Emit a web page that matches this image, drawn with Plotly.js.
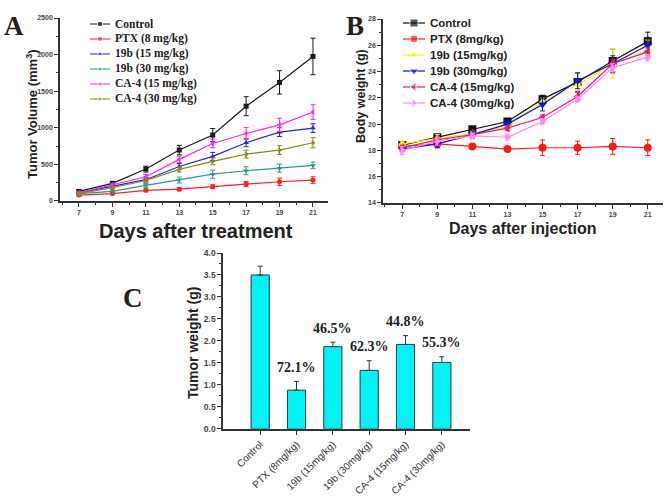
<!DOCTYPE html>
<html>
<head>
<meta charset="utf-8">
<script src="https://cdn.plot.ly/plotly-3.0.1.min.js"></script>
<style>
  html, body { margin: 0; padding: 0; background: #fff; }
  #fig { width: 666px; height: 501px; }
</style>
</head>
<body>
<div id="fig"></div>
<script>
// A: tumor volume (mm3) vs days after treatment
const daysA = [7, 9, 11, 13, 15, 17, 19, 21];
const volControl = [130, 240, 435, 695, 900, 1295, 1620, 1975];
const volControlErr = [20, 20, 40, 65, 90, 130, 160, 250];
const volPTX = [80, 100, 145, 160, 195, 230, 262, 285];
const volPTXErr = [15, 15, 20, 20, 25, 35, 50, 45];
const vol19b15 = [110, 200, 290, 470, 608, 795, 940, 995];
const vol19b15Err = [20, 20, 30, 40, 55, 55, 60, 60];
const vol19b30 = [100, 130, 212, 285, 365, 412, 448, 485];
const vol19b30Err = [15, 20, 25, 40, 55, 55, 55, 45];
const volCA15 = [110, 222, 330, 568, 785, 922, 1040, 1215];
const volCA15Err = [20, 20, 30, 45, 60, 80, 90, 100];
const volCA30 = [100, 180, 280, 430, 540, 640, 695, 795];
const volCA30Err = [20, 20, 25, 35, 45, 55, 60, 70];
const namesA = ["Control", "PTX (8 mg/kg)", "19b (15 mg/kg)", "19b (30 mg/kg)", "CA-4 (15 mg/kg)", "CA-4 (30 mg/kg)"];

// B: body weight (g) vs days after injection
const daysB = [7, 9, 11, 13, 15, 17, 19, 21];
const bwControl = [18.4, 19.0, 19.6, 20.2, 21.9, 23.2, 24.8, 26.3];
const bwControlErr = [0.2, 0.2, 0.1, 0.2, 0.3, 0.7, 0.9, 0.7];
const bwPTX = [18.3, 18.5, 18.3, 18.1, 18.2, 18.2, 18.3, 18.2];
const bwPTXErr = [0.3, 0.3, 0.1, 0.1, 0.6, 0.5, 0.6, 0.6];
const bw19b15 = [18.5, 18.9, 19.3, 19.8, 21.7, 23.0, 24.6, 25.6];
const bw19b15Err = [0.2, 0.3, 0.2, 0.2, 0.3, 0.9, 1.1, 0.8];
const bw19b30 = [18.1, 18.5, 19.2, 20.0, 21.5, 23.3, 24.6, 26.0];
const bw19b30Err = [0.2, 0.3, 0.3, 0.3, 0.5, 0.6, 0.6, 0.6];
const bwCA15 = [18.2, 18.8, 19.2, 19.7, 20.5, 22.1, 24.6, 25.5];
const bwCA15Err = [0.2, 0.2, 0.2, 0.2, 0.2, 0.3, 0.3, 0.3];
const bwCA30 = [18.0, 18.7, 19.1, 19.0, 20.2, 21.9, 24.3, 25.1];
const bwCA30Err = [0.3, 0.3, 0.2, 0.2, 0.2, 0.2, 0.3, 0.2];
const namesB = ["Control", "PTX (8mg/kg)", "19b (15mg/kg)", "19b (30mg/kg)", "CA-4 (15mg/kg)", "CA-4 (30mg/kg)"];

// C: tumor weight (g) per group
const groupsC = ["Control", "PTX (8mg/kg)", "19b (15mg/kg)", "19b (30mg/kg)", "CA-4 (15mg/kg)", "CA-4 (30mg/kg)"];
const weightC = [3.5, 0.88, 1.87, 1.33, 1.92, 1.51];
const weightErrC = [0.2, 0.2, 0.1, 0.22, 0.2, 0.13];
const inhibitionC = ["", "72.1%", "46.5%", "62.3%", "44.8%", "55.3%"];

const colorsA = ["#1a1a1a", "#ff2020", "#2020ff", "#1f9c8f", "#ff20ff", "#8c8a10"];
const colorsB = ["#111111", "#ff1a1a", "#f5f500", "#1010e0", "#e8186a", "#ff88ff"];
const symbols = ["square", "circle", "triangle-up", "triangle-down", "triangle-left", "triangle-right"];

const seriesA = [[volControl, volControlErr], [volPTX, volPTXErr], [vol19b15, vol19b15Err],
                 [vol19b30, vol19b30Err], [volCA15, volCA15Err], [volCA30, volCA30Err]];
const seriesB = [[bwControl, bwControlErr], [bwPTX, bwPTXErr], [bw19b15, bw19b15Err],
                 [bw19b30, bw19b30Err], [bwCA15, bwCA15Err], [bwCA30, bwCA30Err]];

const traces = [];
const annotations = [];

function addSeries(days, s, i, colors, xa, ya, msize) {
  traces.push({
    x: days, y: s[0], type: "scatter", mode: "lines+markers", showlegend: false,
    xaxis: xa, yaxis: ya,
    line: { color: colors[i], width: 1.2 },
    marker: { color: colors[i], symbol: symbols[i], size: msize },
    error_y: { type: "data", array: s[1], color: colors[i], thickness: 1, width: 2.5 }
  });
}
// hand-made legend on its own hidden axes (Plotly legend rows are too tall)
function addKey(names, i, colors, xa, ya, msize, font) {
  traces.push({
    x: [0, 1, 2], y: [i, i, i], type: "scatter", mode: "lines+markers", showlegend: false,
    xaxis: xa, yaxis: ya, hoverinfo: "skip",
    line: { color: colors[i], width: 1.2 },
    marker: { color: colors[i], symbol: symbols[i], size: [0, msize, 0] }
  });
  annotations.push({
    text: "<b>" + names[i] + "</b>", x: 2, y: i, xref: xa, yref: ya,
    xanchor: "left", yanchor: "middle", xshift: 3, showarrow: false, font: font
  });
}
seriesA.forEach(function(s, i) { addSeries(daysA, s, i, colorsA, "x", "y", 5); });
seriesB.forEach(function(s, i) { addSeries(daysB, s, i, colorsB, "x2", "y2", 8); });
namesA.forEach(function(n, i) {
  addKey(namesA, i, colorsA, "x4", "y4", 5, { family: "Times New Roman", size: 11.5, color: "#222" });
});
namesB.forEach(function(n, i) {
  addKey(namesB, i, colorsB, "x5", "y5", 8, { family: "Arial", size: 11.5, color: "#222" });
});

traces.push({
  x: groupsC, y: weightC, type: "bar", xaxis: "x3", yaxis: "y3",
  showlegend: false, width: 0.5,
  marker: { color: "#00f2f2", line: { color: "#1d3f44", width: 1 } },
  error_y: { type: "data", array: weightErrC, arrayminus: weightErrC.map(function() { return 0; }),
             symmetric: false, color: "#1d3f44", thickness: 1, width: 2.5 }
});

const tickFont = { family: "Arial", size: 7, color: "#444", weight: "bold" };
function axisBase(extra) {
  return Object.assign({
    showline: true, linecolor: "#333", linewidth: 1.5, mirror: false,
    showgrid: false, zeroline: false, ticks: "outside", ticklen: 4, tickwidth: 1,
    tickcolor: "#333", tickfont: tickFont
  }, extra);
}
const hiddenAxis = { visible: false, fixedrange: true };

function paperText(text, x, y, size, family, angle) {
  annotations.push({
    text: "<b>" + text + "</b>", x: x / 666, y: 1 - y / 501, xref: "paper", yref: "paper",
    xanchor: "center", yanchor: "middle", showarrow: false, textangle: angle || 0,
    font: { family: family, size: size, color: "#222" }
  });
}
paperText("A", 14, 26, 27, "Times New Roman");
paperText("B", 355, 26, 27, "Times New Roman");
paperText("C", 133, 298, 27, "Times New Roman");
paperText("Tumor Volume (mm<sup>3</sup>)", 32, 114, 13, "Arial", -90);
paperText("Days after treatment", 196, 231, 20, "Arial");
paperText("Body weight (g)", 361, 96, 12.5, "Arial", -90);
paperText("Days after injection", 523, 228, 16, "Arial");
paperText("Tumor weight (g)", 193, 343, 14, "Arial", -90);

groupsC.forEach(function(g, i) {
  if (!inhibitionC[i]) return;
  annotations.push({
    text: "<b>" + inhibitionC[i] + "</b>", x: g, y: weightC[i] + weightErrC[i] + 0.1,
    xref: "x3", yref: "y3", yanchor: "bottom", showarrow: false,
    font: { family: "Times New Roman", size: 14, color: "#222" }
  });
});

const layout = {
  width: 666, height: 501,
  margin: { l: 0, r: 0, t: 0, b: 0 },
  paper_bgcolor: "#fff", plot_bgcolor: "rgba(0,0,0,0)",
  font: { family: "Arial", color: "#222" },
  xaxis: axisBase({
    domain: [0.090, 0.4925], range: [5.86, 21.9], anchor: "y",
    tickvals: daysA, minor: { ticks: "outside", ticklen: 2, dtick: 1, tickcolor: "#333" }
  }),
  yaxis: axisBase({
    domain: [0.599, 0.964], range: [0, 2500], anchor: "x", dtick: 500,
    minor: { ticks: "outside", ticklen: 2, dtick: 250, tickcolor: "#333" }
  }),
  xaxis2: axisBase({
    domain: [0.575, 0.995], range: [5.9, 21.85], anchor: "y2",
    tickvals: daysB, minor: { ticks: "outside", ticklen: 2, dtick: 1, tickcolor: "#333" }
  }),
  yaxis2: axisBase({
    domain: [0.595, 0.962], range: [14, 28], anchor: "x2", dtick: 2,
    minor: { ticks: "outside", ticklen: 2, dtick: 1, tickcolor: "#333" }
  }),
  xaxis3: axisBase({
    domain: [0.335, 0.706], range: [-1.02, 5.78], anchor: "y3",
    tickangle: -45, tickfont: { family: "Arial", size: 10, color: "#333" }
  }),
  yaxis3: axisBase({
    domain: [0.144, 0.495], range: [0, 4.0], anchor: "x3", dtick: 0.5, tickformat: ".1f",
    tickfont: { family: "Arial", size: 8.5, color: "#444", weight: "bold" },
    minor: { ticks: "outside", ticklen: 2, dtick: 0.25, tickcolor: "#333" }
  }),
  // legend key areas: rows 15 px apart (A) and 16 px apart (B)
  xaxis4: Object.assign({ domain: [90 / 666, 110 / 666], range: [0, 2], anchor: "y4" }, hiddenAxis),
  yaxis4: Object.assign({ domain: [1 - 106.5 / 501, 1 - 16.5 / 501], range: [5.5, -0.5], anchor: "x4" }, hiddenAxis),
  xaxis5: Object.assign({ domain: [403 / 666, 425 / 666], range: [0, 2], anchor: "y5" }, hiddenAxis),
  yaxis5: Object.assign({ domain: [1 - 111 / 501, 1 - 15 / 501], range: [5.5, -0.5], anchor: "x5" }, hiddenAxis),
  annotations: annotations
};

Plotly.newPlot("fig", traces, layout, { displayModeBar: false });
</script>
</body>
</html>
